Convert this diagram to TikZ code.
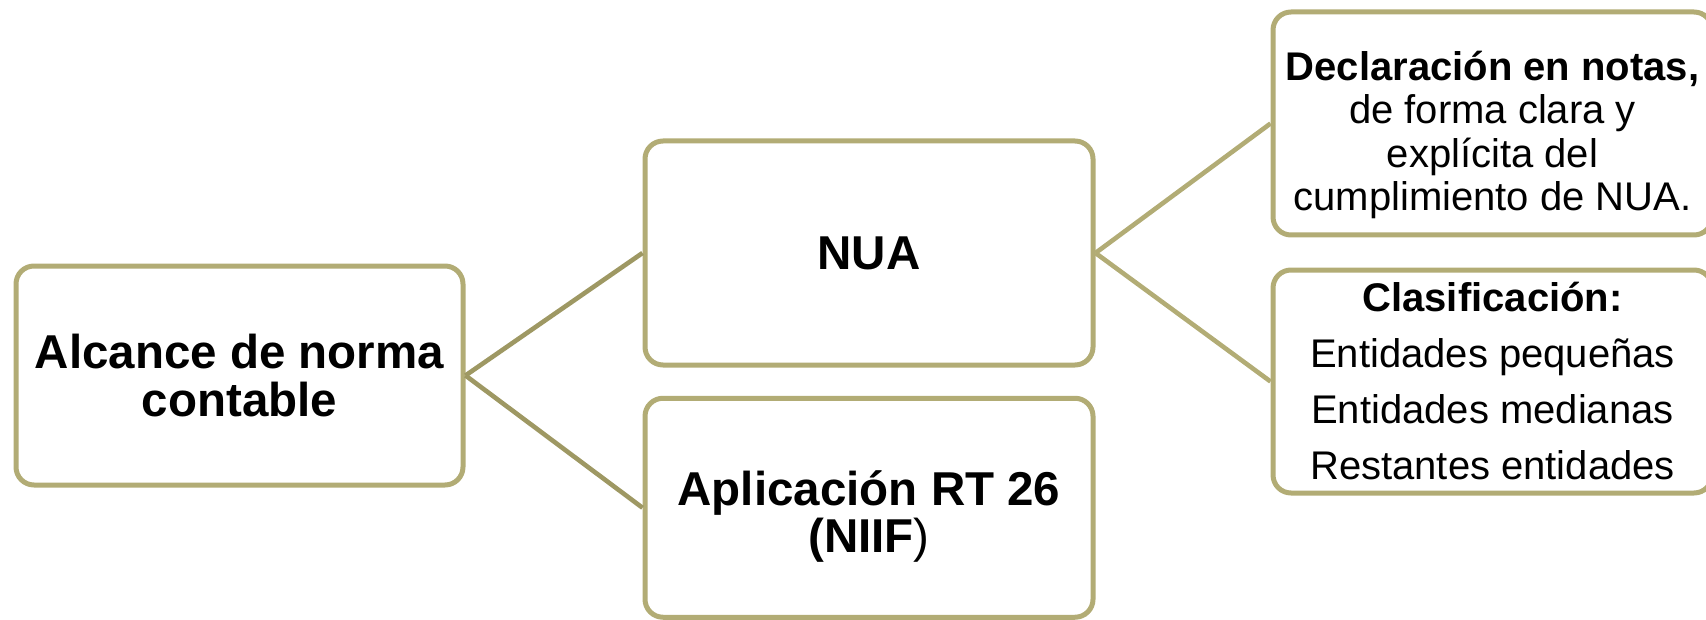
\documentclass[tikz,border=0pt]{standalone}
\usepackage{fontspec}
\setmainfont{Liberation Sans}
\usepackage{tikz}
\usetikzlibrary{positioning}
\definecolor{mkhaki}{rgb}{0.70, 0.675, 0.46}
\definecolor{mdkhaki}{rgb}{0.62, 0.595, 0.39}
\tikzset{box/.style = {draw=mkhaki, line width=2.5pt, rounded corners=9pt,
                       fill=white, align=center, inner sep=0pt},
         big/.style = {font=\bfseries\fontsize{23.75}{23.75}\selectfont},
         small/.style = {font=\fontsize{20}{21.7}\selectfont}}

\begin{document}
\begin{tikzpicture}[x=0.5pt, y=-0.5pt]
      \useasboundingbox (0, 0) rectangle (1706, 620);

      \node [box, big, minimum width=223.5pt, minimum height=109.5pt] (alcance) at (239.5, 375.5)
            {Alcance de norma\\contable};
      \node [box, big, minimum width=224pt, minimum height=112pt] (nua) at (869, 253) {NUA};
      \node [box, big, minimum width=224pt, minimum height=109.5pt] (rt) at (869, 507.75)
            {\rule{0pt}{26pt}Aplicación RT 26\\(NIIF\textmd{)}};

      \node [box, small, minimum width=219.5pt, minimum height=111.5pt] (decl) at (1492.5, 123.5)
            {\rule{0pt}{26pt}\textbf{Declaración en notas,}\\de forma clara y\\explícita del\\cumplimiento de NUA.};
      \node [box, font=\fontsize{20}{28}\selectfont, minimum width=219.5pt, minimum height=111.5pt]
            (clasif) at (1492.5, 381.5)
            {\textbf{Clasificación:}\\Entidades pequeñas\\Entidades medianas\\Restantes entidades};

      \draw [mdkhaki, line width=2.3pt] (alcance.east) -- (nua.west);
      \draw [mdkhaki, line width=2.3pt] (alcance.east) -- (rt.west);
      \draw [mkhaki, line width=2.3pt] (nua.east) -- (decl.west);
      \draw [mkhaki, line width=2.3pt] (nua.east) -- (clasif.west);
    \end{tikzpicture}
\end{document}
